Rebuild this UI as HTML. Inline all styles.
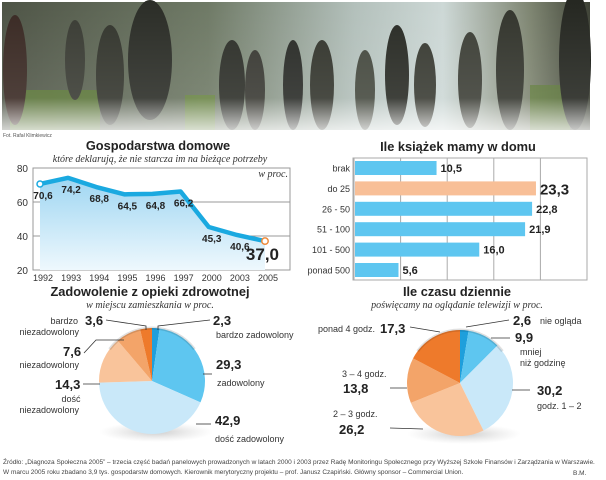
<!DOCTYPE html>
<html><head><meta charset="utf-8">
<style>
html,body{margin:0;padding:0;background:#fff;}
svg{display:block;font-family:"Liberation Sans","DejaVu Sans",sans-serif;}
.t{font-weight:bold;font-size:12.8px;fill:#222;}
.st{font-family:"Liberation Serif",serif;font-style:italic;font-size:10px;fill:#333;}
.lb{font-size:9px;fill:#333;}
.v{font-weight:bold;font-size:12px;fill:#222;}
.ft{font-size:6.5px;fill:#444;}
</style></head>
<body>
<svg id="s" width="606" height="480" viewBox="0 0 606 480" xmlns="http://www.w3.org/2000/svg">
<defs>
<linearGradient id="ph" x1="0" x2="1" y1="0" y2="0">
<stop offset="0" stop-color="#4e5446"/><stop offset="0.35" stop-color="#6f7a66"/>
<stop offset="0.6" stop-color="#b3c0bb"/><stop offset="0.75" stop-color="#cdd8d6"/>
<stop offset="0.9" stop-color="#7d8470"/><stop offset="1" stop-color="#3e4236"/>
</linearGradient>
<linearGradient id="phv" x1="0" x2="0" y1="0" y2="1">
<stop offset="0" stop-color="#fff" stop-opacity="0"/><stop offset="0.75" stop-color="#fff" stop-opacity="0.1"/><stop offset="1" stop-color="#fff" stop-opacity="0.75"/>
</linearGradient>
<linearGradient id="area" x1="0" x2="0" y1="0" y2="1">
<stop offset="0" stop-color="#9fd6f2"/><stop offset="1" stop-color="#eef8fd"/>
</linearGradient>
<radialGradient id="sh" cx="0.5" cy="0.5" r="0.5"><stop offset="0" stop-color="#999" stop-opacity="0.5"/><stop offset="1" stop-color="#bbb" stop-opacity="0"/></radialGradient>
</defs>

<g>
<rect x="2" y="2" width="588" height="128" fill="url(#ph)"/>
<rect x="10" y="90" width="90" height="40" fill="#5d7a34" opacity="0.8"/>
<rect x="185" y="95" width="30" height="35" fill="#6a8a3a" opacity="0.7"/>
<rect x="530" y="85" width="40" height="45" fill="#5d7a34" opacity="0.7"/>
<ellipse cx="150" cy="60" rx="22" ry="60" fill="#2c2e28"/>
<ellipse cx="110" cy="75" rx="14" ry="50" fill="#34362e"/>
<ellipse cx="75" cy="60" rx="10" ry="40" fill="#3a3c34"/>
<ellipse cx="232" cy="85" rx="13" ry="45" fill="#2e302a"/>
<ellipse cx="255" cy="90" rx="10" ry="40" fill="#3a3a34"/>
<ellipse cx="293" cy="85" rx="10" ry="45" fill="#2a2c28"/>
<ellipse cx="322" cy="85" rx="12" ry="45" fill="#34362e"/>
<ellipse cx="365" cy="90" rx="10" ry="40" fill="#464a40"/>
<ellipse cx="397" cy="75" rx="12" ry="50" fill="#2a2c26"/>
<ellipse cx="425" cy="85" rx="11" ry="42" fill="#3a3c34"/>
<ellipse cx="470" cy="80" rx="12" ry="48" fill="#3e4038"/>
<ellipse cx="510" cy="70" rx="14" ry="60" fill="#34362e"/>
<ellipse cx="575" cy="60" rx="16" ry="70" fill="#262822"/>
<ellipse cx="15" cy="70" rx="12" ry="55" fill="#3a2a24"/>
<rect x="2" y="2" width="588" height="128" fill="url(#phv)"/>
</g>
<text x="3" y="137" font-size="5" fill="#555">Fot. Rafał Klimkiewicz</text>

<g id="lineChart">
<text class="t" x="158" y="150" text-anchor="middle">Gospodarstwa domowe</text>
<text class="st" x="160" y="162" text-anchor="middle">które deklarują, że nie starcza im na bieżące potrzeby</text>
<text class="st" x="288" y="177" text-anchor="end">w proc.</text>
</g>

<g id="barChart">
<text class="t" x="458" y="151" text-anchor="middle">Ile książek mamy w domu</text>
</g>

<g id="pie1">
<text class="t" x="150" y="296" text-anchor="middle">Zadowolenie z opieki zdrowotnej</text>
<text class="st" x="150" y="308" text-anchor="middle">w miejscu zamieszkania w proc.</text>
</g>

<g id="pie2">
<text class="t" x="457" y="296" text-anchor="middle">Ile czasu dziennie</text>
<text class="st" x="457" y="308" text-anchor="middle">poświęcamy na oglądanie telewizji w proc.</text>
</g>

<g>
<text class="ft" x="3" y="464">Źródło: „Diagnoza Społeczna 2005” – trzecia część badań panelowych prowadzonych w latach 2000 i 2003 przez Radę Monitoringu Społecznego przy Wyższej Szkole Finansów i Zarządzania w Warszawie.</text>
<text class="ft" x="3" y="474">W marcu 2005 roku zbadano 3,9 tys. gospodarstw domowych. Kierownik merytoryczny projektu – prof. Janusz Czapiński. Główny sponsor – Commercial Union.</text>
<text class="ft" x="573" y="475">B.M.</text>
</g>
</svg>
<script>
const years = ["1992","1993","1994","1995","1996","1997","2000","2003","2005"];
const householdValues = [70.6,74.2,68.8,64.5,64.8,66.2,45.3,40.6,37.0];
const yTicks = [20,40,60,80];
const bookCategories = ["brak","do 25","26 - 50","51 - 100","101 - 500","ponad 500"];
const bookValues = [10.5,23.3,22.8,21.9,16.0,5.6];
const bookGrid = [0,6,12,18,24,30];
const healthLabels = ["bardzo zadowolony","zadowolony","dość zadowolony","dość niezadowolony","niezadowolony","bardzo niezadowolony"];
const healthValues = [2.3,29.3,42.9,14.3,7.6,3.6];
const tvLabels = ["nie ogląda","mniej niż godzinę","godz. 1 – 2","2 – 3 godz.","3 – 4 godz.","ponad 4 godz."];
const tvValues = [2.6,9.9,30.2,26.2,13.8,17.3];

const NS="http://www.w3.org/2000/svg";
function mk(tag,attrs,parent,txt){const e=document.createElementNS(NS,tag);for(const k in attrs)e.setAttribute(k,attrs[k]);if(txt!==undefined)e.textContent=txt;parent.appendChild(e);return e;}
const fmt=v=>v.toFixed(1).replace('.',',');

(function(){
const g=document.getElementById('lineChart');
const x=i=>40+i*(225/(years.length-1));
const y=v=>270-(v-20)*1.7;
mk('rect',{x:33,y:168,width:257,height:102,fill:'none',stroke:'#999','stroke-width':1},g);
yTicks.forEach(t=>{
 const l=mk('line',{x1:33,x2:290,y1:y(t),y2:y(t),stroke:'#999','stroke-width':1},g);
 
 
 const tx=mk('text',{x:28,y:y(t)+4,'text-anchor':'end','font-size':10,fill:'#333'},g,String(t));
 
 
});
let d='M'+x(0)+','+y(householdValues[0]);
householdValues.forEach((v,i)=>{if(i)d+=' L'+x(i)+','+y(v);});
const a=mk('path',{d:d+' L'+x(householdValues.length-1)+',270 L'+x(0)+',270 Z',fill:'url(#area)'},g);


const ln=mk('path',{d:d,fill:'none',stroke:'#1aa9e0','stroke-width':4.5,'stroke-linejoin':'round'},g);


years.forEach((yr,i)=>{
 const t=mk('text',{x:x(i)+3,y:281,'text-anchor':'middle','font-size':9,fill:'#333'},g,yr);
 
 
});
householdValues.forEach((v,i)=>{
 const last=i===householdValues.length-1;
 const t=mk('text',{x:last?x(i)+14:x(i)+3,y:y(v)+(last?19:15),'text-anchor':last?'end':'middle','font-size':last?17:10,'font-weight':'bold',fill:'#222'},g,fmt(v));
 
 
});
const c1=mk('circle',{cx:x(0),cy:y(householdValues[0]),r:3,fill:'#fff',stroke:'#1aa9e0','stroke-width':1.5},g);


const li=householdValues.length-1;
const c2=mk('circle',{cx:x(li),cy:y(householdValues[li]),r:3.2,fill:'#fff',stroke:'#ee8a3a','stroke-width':1.5},g);


})();

(function(){
const g=document.getElementById('barChart');
const x0=354,sc=233/30;
const x=v=>x0+v*sc;
mk('rect',{x:353,y:158,width:234,height:122,fill:'none',stroke:'#aaa'},g);
bookGrid.forEach(t=>{
 const l=mk('line',{x1:x(t),x2:x(t),y1:158,y2:280,stroke:'#aaa'},g);
 
 
});
bookValues.forEach((v,i)=>{
 const cy=168+i*20.4;
 const hi=i===1;
 const r=mk('rect',{x:x0+1,y:cy-7,width:v*sc,height:14,fill:hi?'#f8bf97':'#5ec6f0'},g);
 
 
 const c=mk('text',{x:350,y:cy+3.5,'text-anchor':'end','font-size':9,fill:'#333'},g,bookCategories[i]);
 
 
 const t=mk('text',{x:x(v)+5,y:cy+(hi?6:4),'font-size':hi?15:11,'font-weight':'bold',fill:'#222'},g,fmt(v));
 
 
});
})();

const colors=['#1e9fdc','#5ec6f0','#c9e8f9','#f9c49b','#f3a469','#ee7a2b'];
function pie(id,vals,cx,cy,r){
 const g=document.getElementById(id);
 const s=mk('ellipse',{cx:cx+4,cy:cy+r-2,rx:r+4,ry:10,fill:'url(#sh)'},g);
 
 
 const tot=vals.reduce((a,b)=>a+b,0);
 let a0=0;
 vals.forEach((v,i)=>{
  const a1=a0+v/tot*2*Math.PI;
  const p=(a)=>[cx+r*Math.sin(a),cy-r*Math.cos(a)];
  const [x1,y1]=p(a0),[x2,y2]=p(a1);
  const large=(a1-a0)>Math.PI?1:0;
  const sl=mk('path',{d:`M${cx},${cy} L${x1},${y1} A${r},${r} 0 ${large} 1 ${x2},${y2} Z`,fill:colors[i]},g);
  
  
  a0=a1;
 });
 const rim=mk('path',{d:`M${cx-r*0.8},${cy-r*0.6} A${r},${r} 0 0 1 ${cx+r*0.8},${cy-r*0.6}`,fill:'none',stroke:'#000','stroke-opacity':0.12,'stroke-width':3},g);
 
 
}
pie('pie1',healthValues,152,381,53);
pie('pie2',tvValues,460,383,53);

function lbl(gid,items){
 const g=document.getElementById(gid);
 items.forEach(it=>{
  const [type,x,y,txt,anchor]=it;
  if(type==='L'){
   const l=mk('polyline',{points:x,fill:'none',stroke:'#333','stroke-width':0.8},g);
   
   
  } else {
   const t=mk('text',{x:x,y:y,'text-anchor':anchor||'start',class:type==='V'?'v':'lb',style:type==='V'?'font-size:13px':''},g,txt);
   
   
  }
 });
}
lbl('pie1',[
 ['T',78,324,'bardzo','end'],['T',79,335,'niezadowolony','end'],['V',85,325,fmt(healthValues[5])],
 ['L','106,320 146,326 146,330'],
 ['V',213,325,fmt(healthValues[0])],['T',216,338,healthLabels[0]],['L','210,320 158,326 158,330'],
 ['V',63,356,fmt(healthValues[4])],['T',79,368,healthLabels[4],'end'],['L','84,353 96,340 124,340'],
 ['V',216,369,fmt(healthValues[1])],['T',217,386,healthLabels[1]],['L','203,374 212,374'],
 ['V',55,389,fmt(healthValues[3])],['T',71,402,'dość','middle'],['T',79,413,'niezadowolony','end'],['L','83,384 100,384'],
 ['V',215,425,fmt(healthValues[2])],['T',215,442,healthLabels[2]],['L','196,424 211,424']
]);
lbl('pie2',[
 ['T',375,332,'ponad 4 godz.','end'],['V',380,333,fmt(tvValues[5])],['L','410,327 440,332'],
 ['V',513,325,fmt(tvValues[0])],['T',540,324,tvLabels[0]],['L','509,320 466,327'],
 ['V',515,342,fmt(tvValues[1])],['T',520,355,'mniej'],['T',520,366,'niż godzinę'],['L','510,338 491,338'],
 ['T',342,377,'3 – 4 godz.'],['V',343,393,fmt(tvValues[4])],['L','390,388 407,388'],
 ['V',537,395,fmt(tvValues[2])],['T',537,409,tvLabels[2]],['L','512,390 530,390'],
 ['T',333,417,'2 – 3 godz.'],['V',339,434,fmt(tvValues[3])],['L','390,428 423,429']
]);
</script>
</body></html>
